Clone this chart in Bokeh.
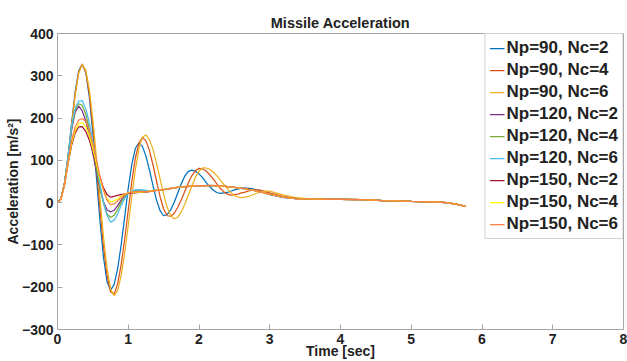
from bokeh.plotting import figure
from bokeh.models import Legend, LegendItem, Range1d, FixedTicker
from bokeh.embed import file_html
from bokeh.resources import INLINE

title = "Missile Acceleration"
x_label = "Time [sec]"
y_label = "Acceleration [m/s²]"
x_ticks = [0, 1, 2, 3, 4, 5, 6, 7, 8]
y_ticks = [-300, -200, -100, 0, 100, 200, 300, 400]

labels = ["Np=90, Nc=2", "Np=90, Nc=4", "Np=90, Nc=6",
          "Np=120, Nc=2", "Np=120, Nc=4", "Np=120, Nc=6",
          "Np=150, Nc=2", "Np=150, Nc=4", "Np=150, Nc=6"]

time = [0.00, 0.05, 0.10, 0.15, 0.20, 0.25, 0.30, 0.35, 0.40, 0.45,
        0.50, 0.55, 0.60, 0.65, 0.70, 0.75, 0.80, 0.85, 0.90, 0.95,
        1.00, 1.05, 1.10, 1.15, 1.20, 1.25, 1.30, 1.35, 1.40, 1.45,
        1.50, 1.55, 1.60, 1.65, 1.70, 1.75, 1.80, 1.85, 1.90, 1.95,
        2.00, 2.05, 2.10, 2.15, 2.20, 2.25, 2.30, 2.35, 2.40, 2.45,
        2.50, 2.55, 2.60, 2.65, 2.70, 2.75, 2.80, 2.85, 2.90, 2.95,
        3.00, 3.2, 3.4, 3.6, 3.8, 4.0, 4.3, 4.6, 5.0, 5.3, 5.5, 5.65, 5.77]

np90_nc2 = [0, 10, 48, 112, 188, 262, 312, 328, 308, 250, 163, 60, -42, -129, -187, -207,
            -194, -156, -100, -33, 34, 90, 128, 141, 133, 110, 77, 40, 6, -19, -31, -28,
            -17, 1, 23, 45, 63, 74, 77, 74, 68, 59, 48, 38, 30, 24, 22, 23,
            24, 27, 30, 32, 34, 35, 34, 33, 31, 28, 25, 22, 19,
            12, 9, 9, 8, 8, 7, 5, 3, 2, 0, -4, -9]
np90_nc4 = [0, 9, 46, 109, 184, 258, 309, 327, 309, 258, 179, 85, -14, -103, -172, -211,
            -217, -192, -147, -86, -18, 49, 105, 141, 154, 146, 123, 89, 51, 14, -15, -31,
            -32, -25, -11, 7, 27, 47, 64, 76, 81, 80, 75, 66, 56, 45, 34, 26,
            20, 18, 19, 20, 23, 25, 28, 29, 30, 30, 28, 26, 23,
            14, 10, 9, 8, 8, 7, 5, 3, 2, 0, -4, -9]
np90_nc6 = [0, 9, 44, 105, 180, 254, 306, 327, 313, 268, 196, 106, 10, -81, -155, -204,
            -220, -208, -172, -119, -54, 15, 77, 126, 155, 160, 149, 126, 93, 56, 20, -11,
            -31, -38, -34, -22, -4, 18, 40, 60, 75, 82, 82, 79, 73, 64, 54, 43,
            33, 24, 17, 13, 12, 13, 15, 18, 21, 24, 26, 27, 27,
            18, 11, 9, 8, 8, 7, 5, 3, 2, 0, -4, -9]
np120_nc2 = [0, 10, 46, 106, 172, 214, 228, 217, 193, 158, 116, 73, 33, 2, -17, -22,
             -18, -7, 6, 16, 22, 25, 27, 27,
             27, 27, 28, 28, 29, 30, 31, 32, 34, 35, 36, 37, 38, 39, 39, 40,
             40, 40, 40, 40, 40, 40, 39, 39, 38, 37, 36, 35, 34, 33, 31, 30,
             28, 26, 24, 22, 20,
             13, 9, 9, 8, 8, 7, 5, 3, 2, 0, -4, -9]
np120_nc4 = [0, 10, 47, 108, 177, 219, 234, 230, 209, 174, 129, 81, 36, -2, -27, -35,
             -30, -16, 1, 14, 22, 26, 28, 28,
             28, 28, 28, 29, 29, 30, 31, 33, 34, 35, 36, 37, 38, 39, 40, 40,
             40, 40, 40, 40, 40, 40, 39, 39, 38, 37, 36, 35, 34, 33, 31, 30,
             28, 26, 24, 22, 20,
             13, 10, 9, 8, 8, 7, 5, 3, 2, 0, -4, -9]
np120_nc6 = [0, 10, 48, 110, 180, 224, 240, 241, 222, 189, 145, 95, 45, 2, -30, -46,
             -42, -27, -7, 10, 21, 27, 30, 31,
             30, 29, 28, 28, 29, 30, 31, 32, 34, 35, 36, 37, 38, 39, 39, 40,
             40, 40, 41, 41, 40, 40, 39, 39, 38, 37, 36, 35, 34, 33, 31, 30,
             28, 26, 24, 22, 20,
             13, 9, 9, 8, 8, 7, 5, 3, 2, 0, -4, -9]
np150_nc2 = [0, 9, 42, 92, 136, 165, 179, 180, 168, 148, 120, 89, 60, 35, 19, 13,
             15, 17, 19, 21, 22, 23, 23, 24,
             24, 25, 26, 27, 29, 30, 31, 32, 33, 35, 36, 37, 38, 38, 39, 40,
             40, 40, 40, 40, 40, 40, 40, 39, 38, 37, 36, 35, 34, 33, 32, 30,
             28, 26, 24, 22, 20,
             13, 9, 9, 8, 8, 7, 5, 3, 2, 0, -4, -9]
np150_nc4 = [0, 9, 43, 95, 141, 171, 186, 189, 179, 158, 127, 92, 57, 28, 9, 2,
             4, 9, 15, 20, 23, 25, 25, 25,
             25, 26, 27, 28, 29, 30, 31, 32, 34, 35, 36, 37, 38, 39, 39, 40,
             40, 40, 40, 40, 40, 40, 39, 39, 38, 37, 36, 35, 34, 33, 31, 30,
             28, 26, 24, 22, 20,
             13, 9, 9, 8, 8, 7, 5, 3, 2, 0, -4, -9]
np150_nc6 = [0, 9, 44, 98, 147, 179, 195, 199, 192, 171, 139, 101, 63, 29, 6, -5,
             -3, 4, 12, 19, 23, 25, 26, 26,
             26, 26, 27, 28, 29, 30, 31, 32, 34, 35, 36, 37, 38, 39, 39, 40,
             40, 40, 40, 41, 41, 40, 40, 39, 38, 37, 36, 35, 34, 33, 31, 30,
             28, 26, 24, 22, 20,
             13, 9, 9, 8, 8, 7, 5, 3, 2, 0, -4, -9]

series = [np90_nc2, np90_nc4, np90_nc6, np120_nc2, np120_nc4, np120_nc6,
          np150_nc2, np150_nc4, np150_nc6]
colors = ["#0072BD", "#D95319", "#EDB120", "#7E2F8E", "#77AC30", "#4DBEEE",
          "#A2142F", "#FFFF00", "#FF8040"]

FONT = "Liberation Sans"
GRAY = "#a6a6a6"
TXT = "#222222"

p = figure(width=627, height=361, output_backend="svg", toolbar_location=None,
           x_range=Range1d(0, 8), y_range=Range1d(-300, 400),
           min_border_left=57, min_border_right=4, min_border_top=33,
           min_border_bottom=31, title=title)
p.background_fill_color = "white"
p.border_fill_color = "white"
p.outline_line_color = GRAY
p.xgrid.visible = False
p.ygrid.visible = False

p.title.align = "center"
p.title.text_font = FONT
p.title.text_font_size = "14.5px"
p.title.text_font_style = "bold"
p.title.text_color = TXT
p.title.standoff = 5

for ax, ticks in ((p.xaxis[0], x_ticks), (p.yaxis[0], y_ticks)):
    ax.ticker = FixedTicker(ticks=ticks)
    ax.axis_line_color = GRAY
    ax.major_tick_line_color = GRAY
    ax.minor_tick_line_color = None
    ax.major_tick_in = 5
    ax.major_tick_out = 0
    ax.major_label_text_font = FONT
    ax.major_label_text_font_style = "bold"
    ax.major_label_text_font_size = "14px"
    ax.major_label_text_color = TXT
    ax.axis_label_text_font = FONT
    ax.axis_label_text_font_style = "bold"
    ax.axis_label_text_font_size = "14px"
    ax.axis_label_text_color = TXT

p.xaxis.axis_label = x_label
p.xaxis.major_label_standoff = 4
p.xaxis.axis_label_standoff = -4
p.yaxis.axis_label = y_label
p.yaxis.major_label_standoff = 4
p.yaxis.axis_label_standoff = -2

items = []
for lab, ys, c in zip(labels, series, colors):
    r = p.line(time, ys, line_color=c, line_width=1.25)
    items.append(LegendItem(label=lab, renderers=[r]))

legend = Legend(items=items, location="top_right", margin=0, padding=4, spacing=2,
                label_height=20, glyph_width=15, glyph_height=20, label_standoff=2,
                label_text_font=FONT, label_text_font_style="bold",
                label_text_font_size="17px", label_text_color=TXT,
                border_line_color=GRAY, background_fill_color="white",
                background_fill_alpha=1)
p.add_layout(legend)

open("out.html", "w").write(file_html(p, INLINE))
